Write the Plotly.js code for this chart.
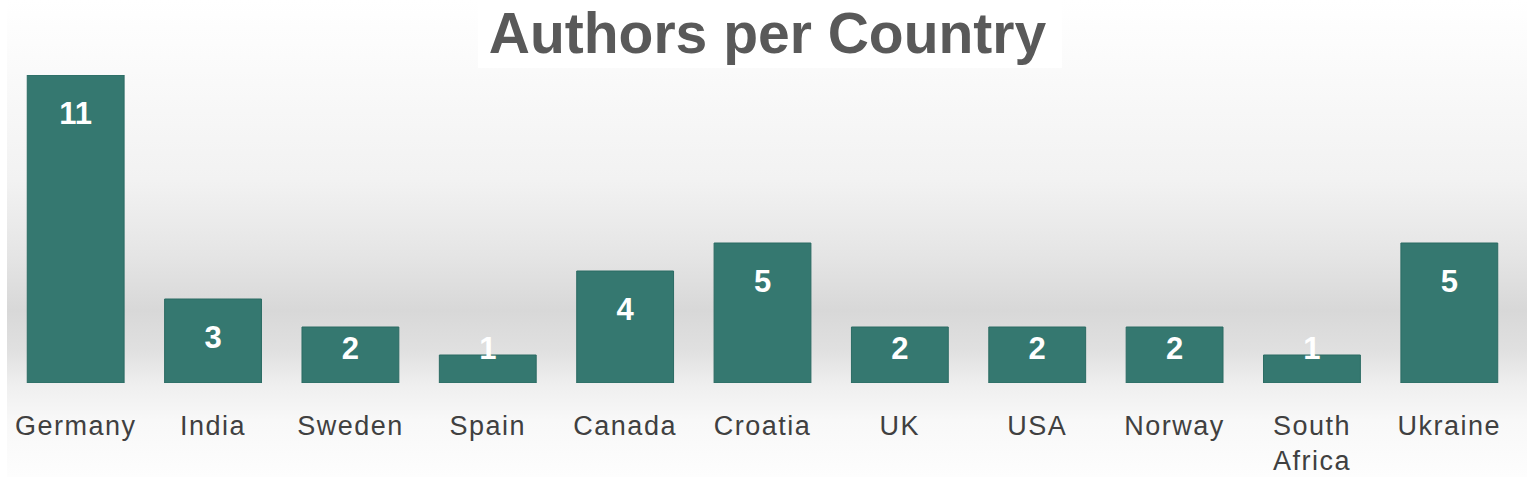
<!DOCTYPE html>
<html>
<head>
<meta charset="utf-8">
<script src="https://cdn.plot.ly/plotly-3.0.1.min.js"></script>
<style>
  html, body { margin: 0; padding: 0; background: #ffffff; }
  #wrap { position: relative; width: 1535px; height: 477px; overflow: hidden; }
  #bg {
    position: absolute; left: 7px; top: 0; width: 1520px; height: 477px;
    background: linear-gradient(to bottom,
      #ffffff 0px, #fafafa 70px, #f2f2f2 180px, #e5e5e5 255px,
      #d8d8d8 310px, #e0e0e0 350px, #efefef 385px, #f8f8f8 420px, #fdfdfd 477px);
  }
  #titlebox { position: absolute; left: 478px; top: 0; width: 584px; height: 68px; background: #ffffff; }
  #chart { position: absolute; left: 0; top: 0; width: 1535px; height: 477px; }
  #chart .xtick text { letter-spacing: 1.5px; }
</style>
</head>
<body>
<div id="wrap">
  <div id="bg"></div>
  <div id="titlebox"></div>
  <div id="chart"></div>
</div>
<script>
const countries = ["Germany", "India", "Sweden", "Spain", "Canada", "Croatia", "UK", "USA", "Norway", "South<br>Africa", "Ukraine"];
const authors = [11, 3, 2, 1, 4, 5, 2, 2, 2, 1, 5];

// label positions: a fixed distance below bar top, but not lower than a floor
const labelY = authors.map(v => Math.max(v - 1.46, 1.15));

const barTrace = {
  type: 'bar',
  x: countries,
  y: authors,
  marker: { color: '#357870', line: { color: '#2b6b63', width: 1 } },
  hoverinfo: 'x+y'
};

const labelTrace = {
  type: 'scatter',
  mode: 'text',
  x: countries,
  y: labelY,
  text: authors.map(String),
  textposition: 'middle center',
  textfont: { family: 'Liberation Sans, Arial, sans-serif', size: 31, color: '#ffffff', weight: 'bold' },
  hoverinfo: 'skip',
  cliponaxis: false
};

const layout = {
  width: 1535,
  height: 477,
  margin: { l: 7, r: 17, t: 75, b: 94 },
  paper_bgcolor: 'rgba(0,0,0,0)',
  plot_bgcolor: 'rgba(0,0,0,0)',
  showlegend: false,
  bargap: 0.295,
  title: {
    text: 'Authors per Country',
    font: { family: 'Liberation Sans, Arial, sans-serif', size: 57, color: '#595959', weight: 'bold' },
    x: 0.5, xanchor: 'center',
    y: 1 - 33 / 477, yanchor: 'middle', yref: 'container'
  },
  xaxis: {
    type: 'category',
    range: [-0.5, countries.length - 0.5],
    automargin: false,
    showgrid: false, zeroline: false, showline: false,
    ticks: '',
    tickfont: { family: 'Liberation Sans, Arial, sans-serif', size: 27, color: '#404040' },
    ticklabelstandoff: 24,
    fixedrange: true
  },
  yaxis: {
    range: [0, 11],
    visible: false,
    fixedrange: true
  }
};

Plotly.newPlot('chart', [barTrace, labelTrace], layout, { displayModeBar: false, staticPlot: true });
</script>
</body>
</html>
